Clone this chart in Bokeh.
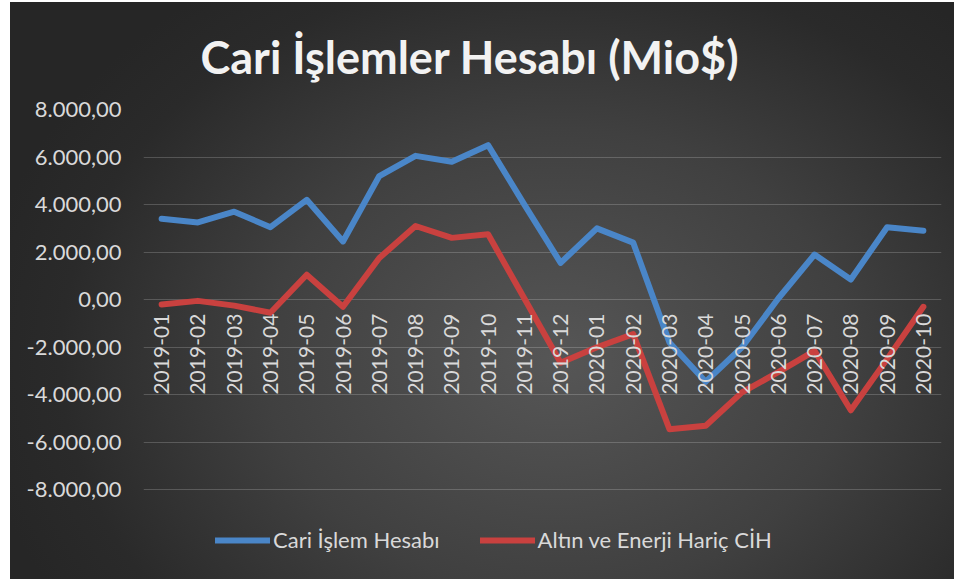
from math import pi
from bokeh.plotting import figure
from bokeh.models import (FactorRange, Range1d, FixedTicker, CustomJSTickFormatter,
                          Legend, LegendItem, ColumnDataSource)
from bokeh.core.properties import value
from bokeh.embed import file_html
from bokeh.resources import INLINE

months = ["2019-01", "2019-02", "2019-03", "2019-04", "2019-05", "2019-06",
          "2019-07", "2019-08", "2019-09", "2019-10", "2019-11", "2019-12",
          "2020-01", "2020-02", "2020-03", "2020-04", "2020-05", "2020-06",
          "2020-07", "2020-08", "2020-09", "2020-10"]
cari_islem = [3400, 3250, 3700, 3050, 4200, 2450, 5200, 6050, 5800, 6500, 4000, 1550,
              3000, 2400, -1800, -3450, -2000, 50, 1900, 850, 3050, 2900]
altin_enerji_haric = [-200, -50, -250, -550, 1050, -300, 1750, 3100, 2600, 2750, 50, -2650,
                      -2000, -1450, -5450, -5300, -3900, -3050, -2150, -4650, -2500, -300]
y_ticks = [-8000, -6000, -4000, -2000, 0, 2000, 4000, 6000, 8000]
label_y = [0] * len(months)

title_text = "Cari İşlemler Hesabı (Mio$)"
name_cari = "Cari İşlem Hesabı"
name_haric = "Altın ve Enerji Hariç CİH"

src = ColumnDataSource(dict(m=months, cari=cari_islem, haric=altin_enerji_haric, ly=label_y))

FONT = "Lato"
TXT = "#d9d9d9"

# frame runs from the 8000 gridline down into the legend strip (legend sits inside frame)
p = figure(width=944, height=577,
           x_range=FactorRange(*months, range_padding=0, factor_padding=0),
           y_range=Range1d(-11350, 8000),
           x_axis_location=None,
           output_backend="svg", toolbar_location=None,
           min_border_left=133, min_border_right=13, min_border_top=105, min_border_bottom=10)

p.background_fill_alpha = 0
p.border_fill_alpha = 0
p.outline_line_color = None
p.styles = {"margin-left": "10px", "margin-top": "2px",
            "background": "radial-gradient(ellipse 62% 80% at 58% 62%, #565656 0%, #404040 50%, #2a2a2a 85%, #262626 100%)"}

p.title.text = title_text
p.title.text_font = FONT
p.title.text_font_style = "bold"
p.title.text_font_size = "45px"
p.title.text_color = "#f2f2f2"
p.title.align = "left"
p.title.offset = 57
p.title.standoff = 51

yax = p.yaxis[0]
yax.ticker = FixedTicker(ticks=y_ticks)
yax.formatter = CustomJSTickFormatter(code="""
return tick.toFixed(2).replace('.', ',').replace(/\\B(?=(\\d{3})+(?!\\d))/g, '.');
""")
yax.major_label_text_font = FONT
yax.major_label_text_font_size = "22px"
yax.major_label_text_color = TXT
yax.axis_line_color = None
yax.major_tick_line_color = None
yax.minor_tick_line_color = None
yax.major_label_standoff = 16

p.ygrid.ticker = FixedTicker(ticks=y_ticks)
p.ygrid.grid_line_color = "#ffffff"
p.ygrid.grid_line_alpha = 0.19
p.xgrid.visible = False

r1 = p.line("m", "cari", source=src, line_width=6, line_color="#4a86c8",
            line_join="round", line_cap="round")
r2 = p.line("m", "haric", source=src, line_width=6, line_color="#c9413f",
            line_join="round", line_cap="round")

p.text(x="m", y="ly", text="m", source=src, angle=pi / 2,
       text_align="right", text_baseline="middle", y_offset=14,
       text_font=value(FONT), text_font_size="21px", text_color=TXT)

legend = Legend(items=[LegendItem(label=name_cari, renderers=[r1]),
                       LegendItem(label=name_haric, renderers=[r2])],
                orientation="horizontal", location=(72, 16),
                label_text_font=FONT, label_text_font_size="22px", label_text_color=TXT,
                glyph_width=55, glyph_height=22, label_standoff=3, spacing=40,
                padding=0, margin=0, background_fill_alpha=0, border_line_alpha=0)
p.add_layout(legend, "center")

open("out.html", "w").write(file_html(p, INLINE))
